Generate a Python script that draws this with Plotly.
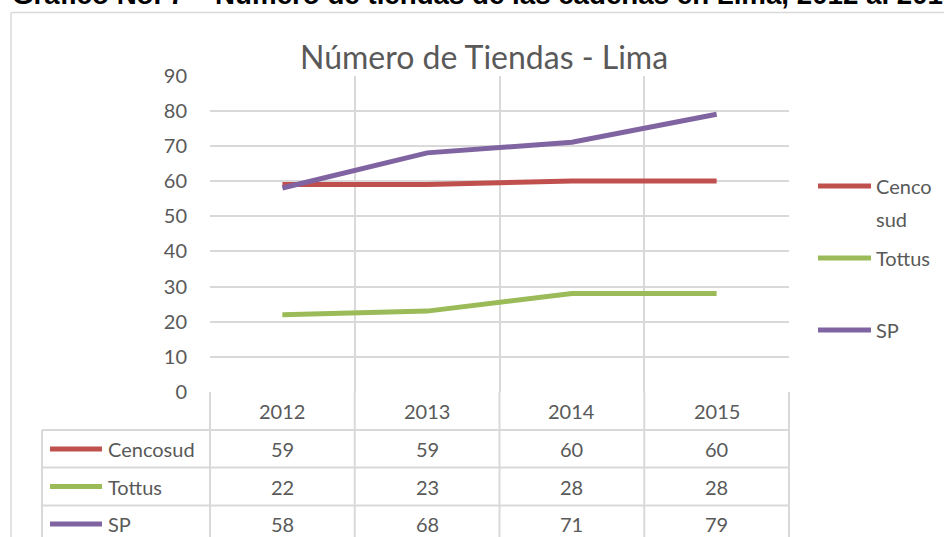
import plotly.graph_objects as go

years = ["2012", "2013", "2014", "2015"]
series = ["Cencosud", "Tottus", "SP"]
cencosud = [59, 59, 60, 60]
tottus = [22, 23, 28, 28]
sp = [58, 68, 71, 79]
colores = ["#C0504D", "#9BBB59", "#8064A2"]
legend_labels = [["Cenco", "sud"], ["Tottus"], ["SP"]]

W, H = 944, 537
GRID = "#D9D9D9"
TXT = "#595959"
FONT = "Lato"

def px(x):
    return x / W

def py(y):
    return 1 - y / H

x0, x1 = 210, 789
y_top, y_bot = 75.5, 392
cat_w = (x1 - x0) / len(years)

fig = go.Figure()
for nombre, vals, col in zip(series, [cencosud, tottus, sp], colores):
    fig.add_trace(go.Scatter(x=years, y=vals, mode="lines", name=nombre,
                             line=dict(color=col, width=5), showlegend=False))

shapes = []
annotations = []

def linea(xa, ya, xb, yb, color=GRID, width=2):
    shapes.append(dict(type="line", xref="paper", yref="paper",
                       x0=px(xa), x1=px(xb), y0=py(ya), y1=py(yb),
                       line=dict(color=color, width=width)))

# marco exterior (solo arriba e izquierda, el resto queda fuera de la imagen)
linea(11, 12.5, W, 12.5, width=1.5)
linea(11, 12.5, 11, H, width=1.5)

# lineas verticales de la tabla
for i in range(len(years) + 1):
    xx = x0 + i * cat_w
    linea(xx, y_bot, xx, H)
# lineas horizontales de la tabla
for yy in [430, 467.5, 505.5]:
    linea(42, yy, x1, yy)
linea(42, 430, 42, H)

cell_font = dict(family=FONT, size=20, color=TXT)

# encabezado de años
for i, yr in enumerate(years):
    annotations.append(dict(x=i, xref="x", y=py(411), yref="paper", text=yr,
                            xanchor="center", yanchor="middle",
                            showarrow=False, font=cell_font))

# filas de la tabla
row_y = [449, 486.5, 524]
for nombre, vals, col, ry in zip(series, [cencosud, tottus, sp], colores, row_y):
    linea(50, ry, 102, ry, color=col, width=5)
    annotations.append(dict(x=px(106), xref="paper", y=py(ry), yref="paper",
                            text=nombre, xanchor="left", yanchor="middle",
                            showarrow=False, font=cell_font))
    for i, v in enumerate(vals):
        annotations.append(dict(x=i, xref="x", y=py(ry), yref="paper", text=str(v),
                                xanchor="center", yanchor="middle",
                                showarrow=False, font=cell_font))

# leyenda derecha
leg_y = [186, 258, 330]
for partes, col, ly in zip(legend_labels, colores, leg_y):
    linea(818, ly, 871, ly, color=col, width=5)
    for k, parte in enumerate(partes):
        annotations.append(dict(x=px(874), xref="paper", y=py(ly + 33 * k), yref="paper",
                                text=parte, xanchor="left", yanchor="middle",
                                showarrow=False, font=cell_font))

# titulo del grafico
annotations.append(dict(x=px(484), xref="paper", y=py(56), yref="paper",
                        text="Número de Tiendas - Lima", showarrow=False,
                        xanchor="center", yanchor="middle",
                        font=dict(family=FONT, size=32, color=TXT)))
# titulo del documento (cortado arriba)
annotations.append(dict(x=px(10), xref="paper", y=py(12.5), yref="paper",
                        text="<b>Gráfico No. 7 – Número de tiendas de las cadenas en Lima, 2012 al 2015</b>",
                        xanchor="left", yanchor="bottom", showarrow=False,
                        font=dict(family="Liberation Sans", size=27.7, color="#000000")))

fig.update_layout(
    width=W, height=H,
    margin=dict(l=0, r=0, t=0, b=0, autoexpand=False),
    paper_bgcolor="white", plot_bgcolor="white",
    shapes=shapes, annotations=annotations,
    xaxis=dict(domain=[px(x0), px(x1)], type="category", tickson="boundaries",
               showgrid=True, gridcolor=GRID, gridwidth=2, showticklabels=False,
               ticks="", showline=False, zeroline=False, range=[-0.5, 3.5],
               automargin=False),
    yaxis=dict(domain=[py(y_bot), py(y_top)], range=[0, 90], dtick=10,
               showgrid=True, gridcolor=GRID, gridwidth=2, zeroline=False,
               tickfont=dict(family=FONT, size=20, color=TXT),
               ticklabelstandoff=22, ticks="", automargin=False),
)

fig.write_html("out.html", config={"displayModeBar": False},
               post_script="document.body.style.margin='0';document.body.style.overflow='hidden';")
